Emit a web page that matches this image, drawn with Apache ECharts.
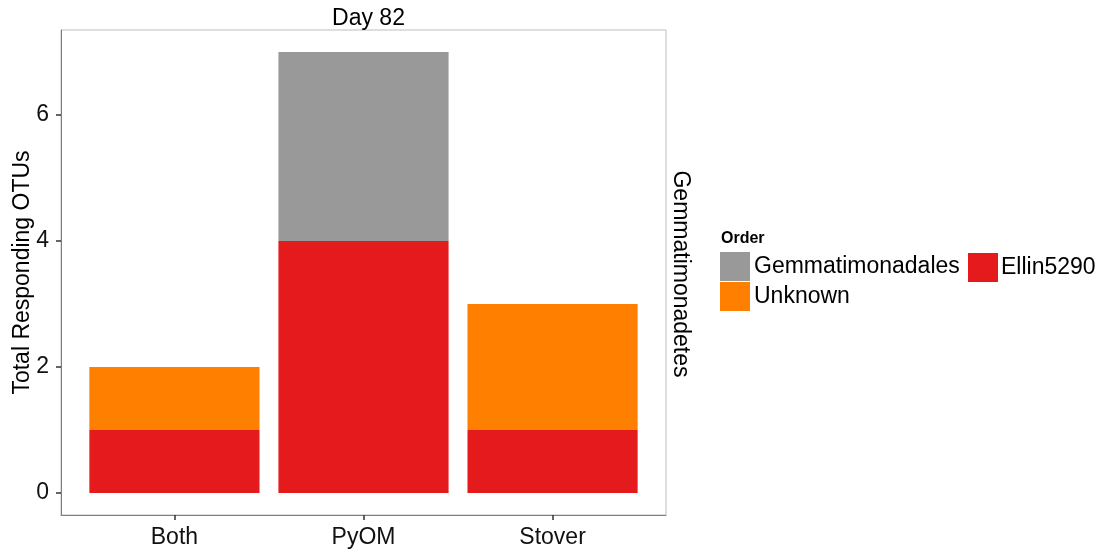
<!DOCTYPE html>
<html>
<head>
<meta charset="utf-8">
<script src="https://cdn.jsdelivr.net/npm/echarts@6/dist/echarts.min.js"></script>
<style>
  html, body { margin: 0; padding: 0; background: #fff; }
  #chart { width: 1104px; height: 552px; }
</style>
</head>
<body>
<div id="chart"></div>
<script>
// Responding OTUs per treatment, stacked by order
const categories = ['Both', 'PyOM', 'Stover'];
const ellin5290 = [1, 4, 1];
const unknown = [1, 0, 2];
const gemmatimonadales = [0, 3, 0];
const yTicks = [0, 2, 4, 6];

const FONT = 'Liberation Sans';
const FS = 23;
const grid = { left: 61, top: 30, width: 605, height: 485 };
const xMin = 0.4, xMax = 3.6;
const barWidth = 0.9 * grid.width / (xMax - xMin);

// value first, position second, so the stack runs along the value
function pts(values) {
  return values.map((v, i) => [v, i + 1]);
}

const chart = echarts.init(document.getElementById('chart'));
chart.setOption({
  animation: false,
  backgroundColor: '#ffffff',
  title: {
    text: 'Day 82',
    left: grid.left + grid.width / 2,
    textAlign: 'center',
    top: 2,
    textStyle: { fontFamily: FONT, fontSize: FS, fontWeight: 'normal', color: '#000' }
  },
  grid: Object.assign({
    show: true, borderColor: '#bdbdbd', borderWidth: 1, backgroundColor: '#fff',
    containLabel: false, outerBoundsMode: 'none'
  }, grid),
  xAxis: {
    type: 'value',
    min: xMin,
    max: xMax,
    splitLine: { show: false },
    axisLine: { show: true, onZero: false, lineStyle: { color: '#7f7f7f', width: 1 } },
    axisTick: { show: true, customValues: [1, 2, 3], length: 5, lineStyle: { color: '#333', width: 1.5 } },
    axisLabel: {
      customValues: [1, 2, 3],
      formatter: v => categories[Math.round(v) - 1],
      fontFamily: FONT, fontSize: FS, color: '#111', margin: 11
    }
  },
  yAxis: {
    type: 'value',
    min: -0.35,
    max: 7.35,
    name: 'Total Responding OTUs',
    nameLocation: 'middle',
    nameGap: 27,
    nameMoveOverlap: false,
    nameTextStyle: { fontFamily: FONT, fontSize: FS, color: '#000' },
    splitLine: { show: false },
    axisLine: { show: true, onZero: false, lineStyle: { color: '#7f7f7f', width: 1 } },
    axisTick: { show: true, customValues: yTicks, length: 5, lineStyle: { color: '#333', width: 1.5 } },
    axisLabel: {
      customValues: yTicks,
      fontFamily: FONT, fontSize: FS, color: '#111', margin: 12
    }
  },
  legend: [
    {
      data: ['Gemmatimonadales', 'Unknown'],
      orient: 'vertical',
      left: 720, top: 252,
      itemWidth: 30, itemHeight: 29, itemGap: 1,
      icon: 'rect',
      textStyle: { fontFamily: FONT, fontSize: FS, color: '#000', padding: [3, 0, 0, -1] },
      padding: 0
    },
    {
      data: ['Ellin5290'],
      orient: 'vertical',
      left: 968, top: 253,
      itemWidth: 30, itemHeight: 29,
      icon: 'rect',
      textStyle: { fontFamily: FONT, fontSize: FS, color: '#000', padding: [2, 0, 0, -2] },
      padding: 0
    }
  ],
  graphic: [
    {
      type: 'text',
      left: 721, top: 231,
      style: { text: 'Order', fontFamily: FONT, fontSize: 16, fontWeight: 'bold', fill: '#000' }
    },
    {
      type: 'text',
      x: 669, y: 274,
      rotation: -Math.PI / 2,
      style: { text: 'Gemmatimonadetes', fontFamily: FONT, fontSize: FS, fill: '#000', align: 'center', verticalAlign: 'bottom' }
    }
  ],
  series: [
    { name: 'Ellin5290', type: 'bar', stack: 'total', data: pts(ellin5290), encode: { x: 1, y: 0 }, barWidth: barWidth, itemStyle: { color: '#E41A1C' } },
    { name: 'Unknown', type: 'bar', stack: 'total', data: pts(unknown), encode: { x: 1, y: 0 }, barWidth: barWidth, itemStyle: { color: '#FF7F00' } },
    { name: 'Gemmatimonadales', type: 'bar', stack: 'total', data: pts(gemmatimonadales), encode: { x: 1, y: 0 }, barWidth: barWidth, itemStyle: { color: '#999999' } }
  ]
});
</script>
</body>
</html>
